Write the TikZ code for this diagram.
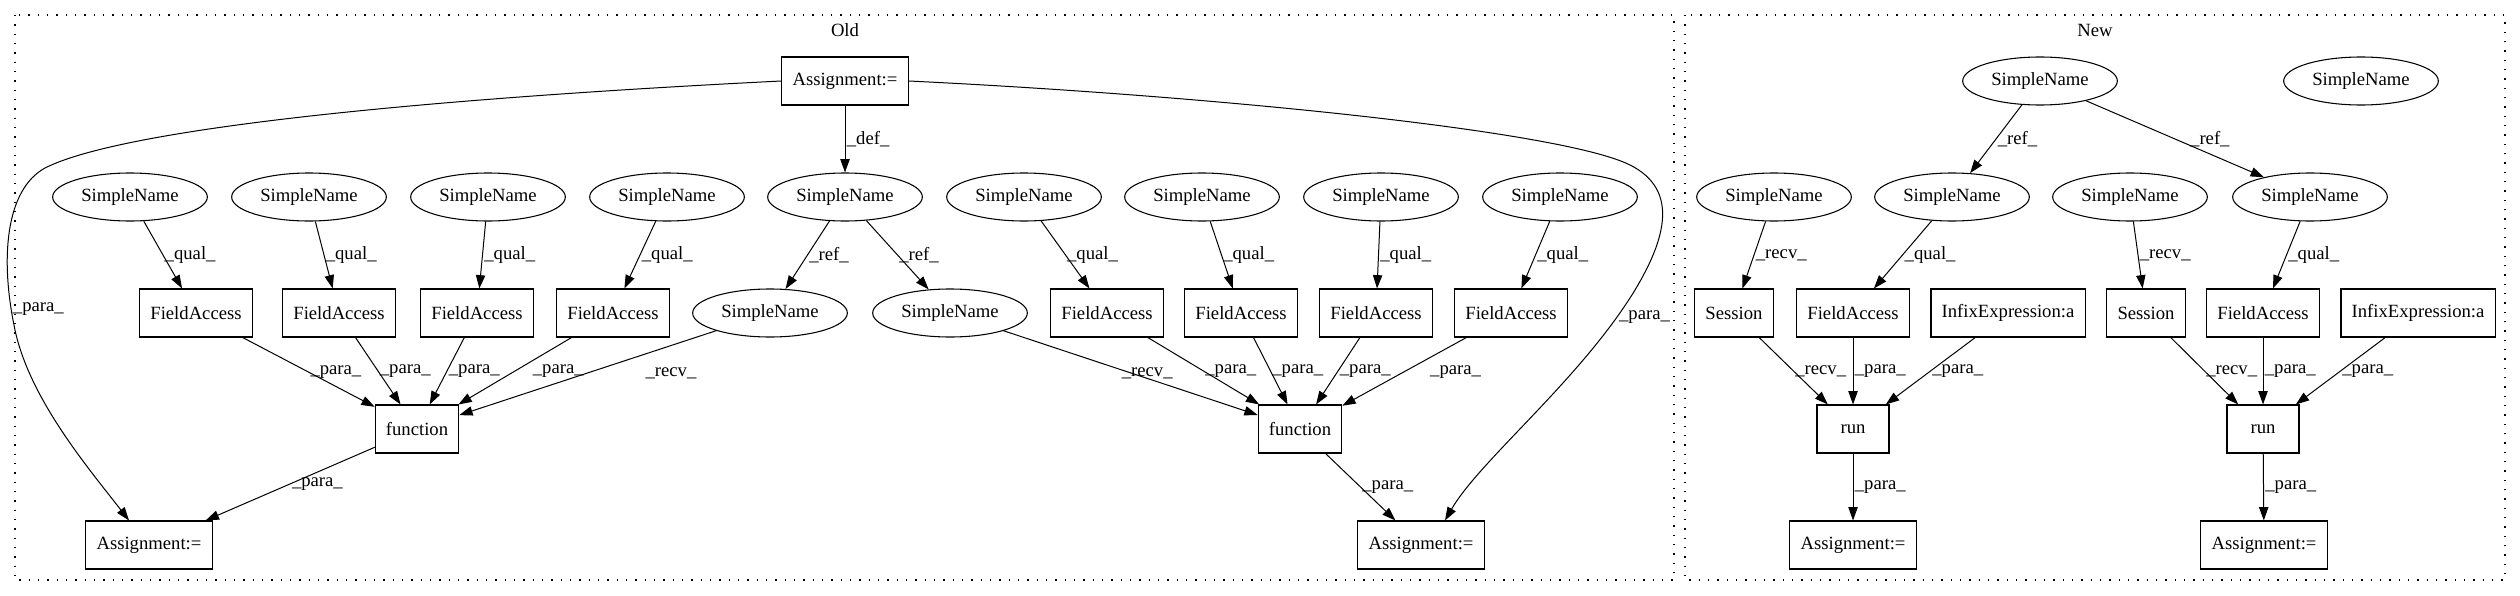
\documentclass[tikz,border=0pt]{standalone}
\usepackage{fontspec}
\setmainfont{Liberation Serif}
\usetikzlibrary{arrows.meta,shapes.geometric}
\begin{document}
\begin{tikzpicture}[x=0.75pt,y=-0.75pt,line width=0.75pt,
  >={Triangle[length=10pt,width=7pt]},
  every node/.style={font=\fontsize{14}{16}\selectfont},
  sname/.style={draw,ellipse,line width=0.8pt,minimum width=116pt,minimum height=36pt,inner sep=0pt},
  astbox/.style={draw,rectangle,line width=0.8pt,minimum width=54pt,minimum height=36pt,inner xsep=8pt},
  elbl/.style={anchor=west,inner sep=1pt},
  clust/.style={line width=0.9pt,dash pattern=on 1pt off 6pt}]
\useasboundingbox (0,0) rectangle (2520,596);
\pgfmathsetmacro{\ya}{81}
\pgfmathsetmacro{\yb}{197}
\pgfmathsetmacro{\yc}{313}
\pgfmathsetmacro{\yd}{429}
\pgfmathsetmacro{\ye}{545}
\draw [clust] (15,15) rectangle (1674,580);
\draw [clust] (1685,15) rectangle (2505,580);
\node (oldlbl) at (845,30) {Old};
\node (newlbl) at (2095,30) {New};
\node [astbox] (oasg) at (845,\ya) {Assignment:=};
\node [sname] (osn1) at (130,\yb) {SimpleName};
\node [sname] (osn2) at (309,\yb) {SimpleName};
\node [sname] (osn3) at (488,\yb) {SimpleName};
\node [sname] (osn4) at (667,\yb) {SimpleName};
\node [sname] (odef) at (845,\yb) {SimpleName};
\node [sname] (osn5) at (1024,\yb) {SimpleName};
\node [sname] (osn6) at (1202,\yb) {SimpleName};
\node [sname] (osn7) at (1381,\yb) {SimpleName};
\node [sname] (osn8) at (1560,\yb) {SimpleName};
\node [astbox] (ofa1) at (196,\yc) {FieldAccess};
\node [astbox] (ofa2) at (339,\yc) {FieldAccess};
\node [astbox] (ofa3) at (477,\yc) {FieldAccess};
\node [astbox] (ofa4) at (613,\yc) {FieldAccess};
\node [sname] (oref1) at (770,\yc) {SimpleName};
\node [sname] (oref2) at (950,\yc) {SimpleName};
\node [astbox] (ofa5) at (1107,\yc) {FieldAccess};
\node [astbox] (ofa6) at (1241,\yc) {FieldAccess};
\node [astbox] (ofa7) at (1376,\yc) {FieldAccess};
\node [astbox] (ofa8) at (1511,\yc) {FieldAccess};
\node [astbox] (ofun1) at (417,\yd) {function};
\node [astbox] (ofun2) at (1300,\yd) {function};
\node [astbox] (oasg1) at (149,\ye) {Assignment:=};
\node [astbox] (oasg2) at (1421,\ye) {Assignment:=};
\draw [->] (oasg.west) .. controls (400,100) and (120,130) .. (45,168) .. controls (5,190) and (0,260) .. (15,330) node[elbl,pos=0.9] {\_para\_} .. controls (30,400) and (90,470) .. ([xshift=-15pt]oasg1.north);
\draw [->] (oasg.east) .. controls (1200,95) and (1560,130) .. (1630,165) .. controls (1680,190) and (1665,240) .. (1635,290) .. controls (1580,380) and (1480,460) .. ([xshift=18pt]oasg2.north) node[elbl,pos=0.1] {\_para\_};
\draw [->] (oasg) -- (odef) node[elbl,midway] {\_def\_};
\draw [->] (odef) -- (oref1) node[elbl,midway] {\_ref\_};
\draw [->] (odef) -- (oref2) node[elbl,midway] {\_ref\_};
\draw [->] (osn1) -- (ofa1) node[elbl,midway] {\_qual\_};
\draw [->] (osn2) -- (ofa2) node[elbl,midway] {\_qual\_};
\draw [->] (osn3) -- (ofa3) node[elbl,midway] {\_qual\_};
\draw [->] (osn4) -- (ofa4) node[elbl,midway] {\_qual\_};
\draw [->] (osn5) -- (ofa5) node[elbl,midway] {\_qual\_};
\draw [->] (osn6) -- (ofa6) node[elbl,midway] {\_qual\_};
\draw [->] (osn7) -- (ofa7) node[elbl,midway] {\_qual\_};
\draw [->] (osn8) -- (ofa8) node[elbl,midway] {\_qual\_};
\draw [->] (ofa1) -- (ofun1) node[elbl,midway] {\_para\_};
\draw [->] (ofa2) -- (ofun1) node[elbl,midway] {\_para\_};
\draw [->] (ofa3) -- (ofun1) node[elbl,midway] {\_para\_};
\draw [->] (ofa4) -- (ofun1) node[elbl,midway,xshift=12pt] {\_para\_};
\draw [->] (oref1) -- (ofun1) node[elbl,midway,xshift=42pt] {\_recv\_};
\draw [->] (oref2) -- (ofun2) node[elbl,midway,xshift=-8pt] {\_recv\_};
\draw [->] (ofa5) -- (ofun2) node[elbl,midway] {\_para\_};
\draw [->] (ofa6) -- (ofun2) node[elbl,midway] {\_para\_};
\draw [->] (ofa7) -- (ofun2) node[elbl,midway] {\_para\_};
\draw [->] (ofa8) -- (ofun2) node[elbl,midway,xshift=18pt] {\_para\_};
\draw [->] (ofun1) -- (oasg1) node[elbl,midway] {\_para\_};
\draw [->] (ofun2) -- (oasg2) node[elbl,midway] {\_para\_};
\node [sname] (nsn0) at (2040,\ya) {SimpleName};
\node [sname] (nsn5) at (2361,\ya) {SimpleName};
\node [sname] (nsn1) at (1774,\yb) {SimpleName};
\node [sname] (nsn2) at (1952,\yb) {SimpleName};
\node [sname] (nsn3) at (2130,\yb) {SimpleName};
\node [sname] (nsn4) at (2310,\yb) {SimpleName};
\node [astbox] (nses1) at (1734,\yc) {Session};
\node [astbox] (nfa1) at (1853,\yc) {FieldAccess};
\node [astbox] (ninf1) at (2008,\yc) {InfixExpression:a};
\node [astbox] (nses2) at (2146,\yc) {Session};
\node [astbox] (nfa2) at (2263,\yc) {FieldAccess};
\node [astbox] (ninf2) at (2418,\yc) {InfixExpression:a};
\node [astbox] (nrun1) at (1853,\yd) {run};
\node [astbox] (nrun2) at (2263,\yd) {run};
\node [astbox] (nasg1) at (1853,\ye) {Assignment:=};
\node [astbox] (nasg2) at (2264,\ye) {Assignment:=};
\draw [->] (nsn0) -- (nsn2) node[elbl,midway] {\_ref\_};
\draw [->] (nsn0) -- (nsn4) node[elbl,midway,xshift=10pt] {\_ref\_};
\draw [->] (nsn1) -- (nses1) node[elbl,midway] {\_recv\_};
\draw [->] (nsn2) -- (nfa1) node[elbl,midway] {\_qual\_};
\draw [->] (nsn3) -- (nses2) node[elbl,midway] {\_recv\_};
\draw [->] (nsn4) -- (nfa2) node[elbl,midway] {\_qual\_};
\draw [->] (nses1) -- (nrun1) node[elbl,midway] {\_recv\_};
\draw [->] (nfa1) -- (nrun1) node[elbl,midway] {\_para\_};
\draw [->] (ninf1) -- (nrun1) node[elbl,midway] {\_para\_};
\draw [->] (nses2) -- (nrun2) node[elbl,midway] {\_recv\_};
\draw [->] (nfa2) -- (nrun2) node[elbl,midway] {\_para\_};
\draw [->] (ninf2) -- (nrun2) node[elbl,midway] {\_para\_};
\draw [->] (nrun1) -- (nasg1) node[elbl,midway] {\_para\_};
\draw [->] (nrun2) -- (nasg2) node[elbl,midway] {\_para\_};
\end{tikzpicture}
\end{document}
